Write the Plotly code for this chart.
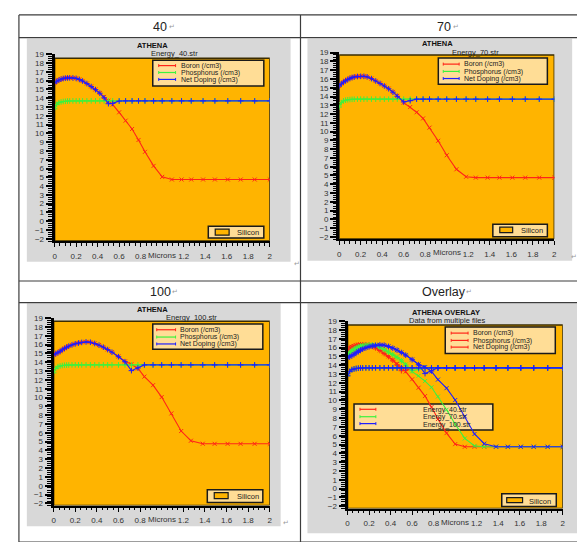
import plotly.graph_objects as go

W, H = 585, 542
FONT = "Liberation Sans, Arial, sans-serif"

# ---------------- data (log10 concentration vs depth in microns) ----------------
depth = [0.00, 0.02, 0.04, 0.06, 0.08, 0.10, 0.12, 0.14, 0.17, 0.20, 0.23, 0.26,
         0.30, 0.34, 0.38, 0.42, 0.46, 0.50, 0.54, 0.60, 0.66, 0.72, 0.78, 0.84,
         0.92, 1.00, 1.09, 1.18, 1.27, 1.38, 1.49, 1.61, 1.73, 1.86, 2.00]

boron_40 = [15.75, 15.95, 16.08, 16.18, 16.26, 16.30, 16.32, 16.33, 16.32, 16.27, 16.15, 15.97,
            15.68, 15.35, 15.00, 14.60, 14.15, 13.72, 13.28, 12.40, 11.45, 10.50, 9.25, 7.90,
            6.30, 5.05, 4.75, 4.75, 4.75, 4.75, 4.75, 4.75, 4.75, 4.75, 4.75]
net_40 = [15.74, 15.94, 16.07, 16.17, 16.25, 16.29, 16.31, 16.32, 16.31, 16.26, 16.14, 15.96,
          15.67, 15.33, 14.98, 14.57, 14.05, 13.38, 13.42, 13.68, 13.70, 13.70, 13.70, 13.70,
          13.70, 13.70, 13.70, 13.70, 13.70, 13.70, 13.70, 13.70, 13.70, 13.70, 13.70]

boron_70 = [15.20, 15.45, 15.65, 15.80, 15.95, 16.08, 16.17, 16.24, 16.29, 16.31, 16.31, 16.25,
            16.05, 15.78, 15.50, 15.22, 14.90, 14.52, 14.08, 13.30, 12.80, 12.20, 11.50, 10.45,
            8.95, 7.30, 5.70, 4.85, 4.75, 4.75, 4.75, 4.75, 4.75, 4.75, 4.75]
net_70 = [15.19, 15.44, 15.64, 15.79, 15.94, 16.07, 16.16, 16.23, 16.28, 16.30, 16.30, 16.24,
          16.04, 15.77, 15.49, 15.20, 14.88, 14.49, 14.02, 13.38, 13.52, 13.70, 13.70, 13.70,
          13.70, 13.70, 13.70, 13.70, 13.70, 13.70, 13.70, 13.70, 13.70, 13.70, 13.70]

boron_100 = [14.85, 14.98, 15.10, 15.25, 15.42, 15.58, 15.72, 15.84, 15.98, 16.10, 16.19, 16.26,
             16.32, 16.28, 16.14, 15.95, 15.72, 15.45, 15.15, 14.65, 14.10, 13.78, 13.30, 12.37,
             11.40, 10.05, 8.20, 6.20, 5.10, 4.76, 4.75, 4.75, 4.75, 4.75, 4.75]
net_100 = [14.84, 14.97, 15.09, 15.24, 15.41, 15.57, 15.71, 15.83, 15.97, 16.09, 16.18, 16.25,
           16.31, 16.27, 16.13, 15.94, 15.71, 15.44, 15.14, 14.63, 14.06, 13.05, 13.35, 13.70,
           13.70, 13.70, 13.70, 13.70, 13.70, 13.70, 13.70, 13.70, 13.70, 13.70, 13.70]

phosphorus = [12.80, 13.30, 13.50, 13.58, 13.63, 13.66, 13.68, 13.69, 13.70, 13.70, 13.70, 13.70,
              13.70, 13.70, 13.70, 13.70, 13.70, 13.70, 13.70, 13.70, 13.70, 13.70, 13.70, 13.70,
              13.70, 13.70, 13.70, 13.70, 13.70, 13.70, 13.70, 13.70, 13.70, 13.70, 13.70]

x_tick_vals = [0, 0.2, 0.4, 0.6, 0.8, 1.2, 1.4, 1.6, 1.8, 2]
x_tick_text = ["0", "0.2", "0.4", "0.6", "0.8", "1.2", "1.4", "1.6", "1.8", "2"]
y_tick_vals = list(range(-2, 20))

series_names = ["Boron (/cm3)", "Phosphorus (/cm3)", "Net Doping (/cm3)"]
file_names = ["Energy_40.str", "Energy_70.str", "Energy_100.str"]
headers = ["40", "70", "100", "Overlay"]

# ---------------- styles ----------------
RED, GREEN, BLUE = "#ff2418", "#3df23d", "#1e1eff"
ORANGE, GRAY, PALE = "#ffb400", "#d8d8d8", "#ffdd96"
SYMS = ["x-thin", "cross-thin", "cross-thin"]
XR = [0, 2]
YR = [-2.25, 19.02]

panels = [
    dict(x0=45, x1=262, yt=42.7, yb=232, otop=18.55, gray=(17, 27, 283, 253),
         t1=("<b>ATHENA</b>", 144, 34), t2=("Energy_40.str", 166, 42),
         leg=(144, 49, 256, 75), sx=(150, 167), rows=(54.3, 61.3, 68.3), tx=171,
         sil=(200, 217, 256, 229), sw=(207, 220, 221, 226), stx=(240, 223.5), lab_y=247,
         ret=(289, 255)),
    dict(x0=332, x1=549, yt=41, yb=230, otop=18.74, gray=(300, 27, 567, 252),
         t1=("<b>ATHENA</b>", 431, 32.3), t2=("Energy_70.str", 470, 40.7),
         leg=(432, 46.7, 542, 73.3), sx=(437, 453), rows=(52.8, 60.2, 67.4), tx=457,
         sil=(487, 215, 542, 227.7), sw=(494, 218, 507, 223.5), stx=(526, 221.5), lab_y=244,
         ret=(569, 248)),
    dict(x0=44, x1=262, yt=310, yb=500, otop=18.66, gray=(17, 295, 273, 521),
         t1=("<b>ATHENA</b>", 144, 301.7), t2=("Energy_100.str", 183, 309.3),
         leg=(144, 316, 255, 341.7), sx=(148, 167), rows=(321.9, 329.3, 336.3), tx=170,
         sil=(199, 484, 255, 497), sw=(206, 487, 220, 493), stx=(240, 490.5), lab_y=514,
         ret=(278, 517)),
    dict(x0=340.5, x1=557.5, yt=313, yb=503, otop=18.55, gray=(300, 295, 577, 528),
         t1=("<b>ATHENA OVERLAY</b>", 440, 304.3), t2=("Data from multiple files", 441, 312.5),
         leg=(439, 319, 550, 346), sx=(445, 462), rows=(325.3, 332.7, 339.5), tx=466,
         sil=(496, 488, 551, 501), sw=(501, 492, 517, 497), stx=(535, 495.5), lab_y=517,
         ret=(577, 527)),
]


def PX(x):
    return x / W


def PY(y):
    return 1 - y / H


fig = go.Figure()
shapes = []
annotations = []


def txt(x, y, s, size=7.0, color="#1a1a1a", xanchor="center"):
    annotations.append(dict(x=PX(x), y=PY(y), xref="paper", yref="paper", text=s,
                            showarrow=False, xanchor=xanchor, yanchor="middle",
                            borderpad=0, font=dict(family=FONT, size=size, color=color)))


def rect(x0, y0, x1, y1, fill, lw=1.0, lc="black", layer="above", xref="paper", yref="paper"):
    shapes.append(dict(type="rect", xref=xref, yref=yref, x0=x0, x1=x1, y0=y0, y1=y1,
                       fillcolor=fill, line=dict(color=lc, width=lw), layer=layer))


def line(x0, y0, x1, y1, color="#333", width=1.0):
    shapes.append(dict(type="line", xref="paper", yref="paper", x0=PX(x0), y0=PY(y0),
                       x1=PX(x1), y1=PY(y1), line=dict(color=color, width=width)))


# gray panel backgrounds
for p in panels:
    gx0, gy0, gx1, gy1 = p["gray"]
    rect(PX(gx0), PY(gy1), PX(gx1), PY(gy0), GRAY, lw=0, lc=GRAY, layer="below")

# table grid
for yy in (3, 26, 272.5, 294.5, 537):
    line(9, yy, 580, yy, "#3c3c3c", 1.2)
for xx in (9, 293, 580):
    line(xx, 3, xx, 537, "#3c3c3c", 1.2)

# headers
hdr_pos = [(151.7, 15, 159.5), (437.8, 15, 445.5), (151.7, 283.5, 162.5), (437.5, 283.5, 459)]
for h, (hx, hy, rx) in zip(headers, hdr_pos):
    txt(hx, hy, h, size=12.5, color="#222")
    txt(rx, hy, "↵", size=7, color="#9a9a9a", xanchor="left")

# axes + traces
data_sets = [(boron_40, phosphorus, net_40), (boron_70, phosphorus, net_70),
             (boron_100, phosphorus, net_100)]
layout_axes = {}
for i, p in enumerate(panels, start=1):
    xa = "x" if i == 1 else f"x{i}"
    ya = "y" if i == 1 else f"y{i}"
    xname = "xaxis" if i == 1 else f"xaxis{i}"
    yname = "yaxis" if i == 1 else f"yaxis{i}"
    layout_axes[xname] = dict(
        domain=[PX(p["x0"]), PX(p["x1"])], anchor=ya, range=XR,
        tickmode="array", tickvals=x_tick_vals, ticktext=x_tick_text,
        ticks="outside", ticklen=4, tickwidth=1, tickcolor="black",
        showline=True, linewidth=2, linecolor="black", showgrid=False, zeroline=False,
        tickfont=dict(family=FONT, size=8, color="#333"), ticklabelstandoff=2,
        minor=dict(tickmode="linear", tick0=0, dtick=0.05, ticks="outside", ticklen=2.5,
                   tickwidth=1, tickcolor="black", showgrid=False),
    )
    layout_axes[yname] = dict(
        domain=[PY(p["yb"]), PY(p["yt"])], anchor=xa, range=YR,
        tickmode="array", tickvals=y_tick_vals, ticks="outside", ticklen=6, tickwidth=1.5,
        tickcolor="black", showline=True, linewidth=3, linecolor="black",
        showgrid=False, zeroline=False,
        tickfont=dict(family=FONT, size=8, color="#333"),
        minor=dict(tickmode="linear", tick0=0, dtick=0.25, ticks="outside", ticklen=3.5,
                   tickwidth=1, tickcolor="black", showgrid=False),
    )

    # pixel -> data converters for this panel (for shapes drawn inside the plot area)
    def DX(px, p=p):
        return XR[0] + (XR[1] - XR[0]) * (px - p["x0"]) / (p["x1"] - p["x0"])

    def DY(py, p=p):
        return YR[0] + (YR[1] - YR[0]) * (p["yb"] - py) / (p["yb"] - p["yt"])

    def inrect(x0, y0, x1, y1, fill, lw, lc="#1a1a1a", xa=xa, ya=ya, DX=DX, DY=DY):
        rect(DX(x0), DY(y1), DX(x1), DY(y0), fill, lw=lw, lc=lc, layer="below", xref=xa, yref=ya)

    # orange plotting region
    rect(0, YR[0], 2, p["otop"], ORANGE, lw=1.5, lc="#3a2c00", layer="below", xref=xa, yref=ya)

    if i <= 3:
        sets = [(data_sets[i - 1], [RED, GREEN, BLUE])]
    else:
        sets = [(data_sets[0], [RED] * 3), (data_sets[1], [GREEN] * 3), (data_sets[2], [BLUE] * 3)]
    for vals3, cols in sets:
        for vals, col, sym in zip(vals3, cols, SYMS):
            fig.add_trace(go.Scatter(
                x=depth, y=vals, mode="lines+markers", xaxis=xa, yaxis=ya,
                line=dict(color=col, width=1.1),
                marker=dict(symbol=sym, size=4, color=col, line=dict(color=col, width=1)),
                hoverinfo="skip"))

    # titles
    txt(p["t1"][1], p["t1"][2], p["t1"][0], size=7.5, color="#111")
    txt(p["t2"][1], p["t2"][2], p["t2"][0], size=7.5, color="#222")

    # series legend box
    lx0, ly0, lx1, ly1 = p["leg"]
    inrect(lx0, ly0, lx1, ly1, PALE, 1.5)
    leg_cols = [RED, GREEN, BLUE] if i <= 3 else [RED] * 3
    for name, col, ry in zip(series_names, leg_cols, p["rows"]):
        sx0, sx1 = p["sx"]
        line(sx0, ry, sx1, ry, col, 1.2)
        for ex in (sx0, sx1):
            line(ex, ry - 1.5, ex, ry + 1.5, col, 1)
        txt(p["tx"], ry + 0.3, name, size=7, color="#222", xanchor="left")

    # file legend for overlay
    if i == 4:
        inrect(347, 397, 487, 423.5, PALE, 1.5)
        for name, col, ry, ty in zip(file_names, [RED, GREEN, BLUE],
                                     (402.5, 410, 417), (403, 410.8, 418)):
            line(353, ry, 369, ry, col, 1.2)
            for ex in (353, 369):
                line(ex, ry - 1.5, ex, ry + 1.5, col, 1)
            txt(416, ty, name, size=7, color="#222", xanchor="left")

    # Silicon region legend
    sx0_, sy0_, sx1_, sy1_ = p["sil"]
    inrect(sx0_, sy0_, sx1_, sy1_, PALE, 1.5)
    wx0, wy0, wx1, wy1 = p["sw"]
    inrect(wx0, wy0, wx1, wy1, ORANGE, 1.2)
    txt(p["stx"][0], p["stx"][1], "Silicon", size=7.5, color="#222")

    # axis title sitting in the tick-label row
    annotations.append(dict(x=1.0, xref=xa, y=PY(p["lab_y"]), yref="paper", text="Microns",
                            showarrow=False, xanchor="center", yanchor="middle",
                            font=dict(family=FONT, size=8, color="#333")))
    # paragraph marks
    txt(p["ret"][0], p["ret"][1], "↵", size=7, color="#9a9a9a")

txt(578, 14, "↵", size=5, color="#9a9a9a", xanchor="right")
txt(578, 283, "↵", size=5, color="#9a9a9a", xanchor="right")

fig.update_layout(
    width=W, height=H, margin=dict(l=0, r=0, t=0, b=0),
    paper_bgcolor="white", plot_bgcolor=GRAY, showlegend=False,
    shapes=shapes, annotations=annotations, **layout_axes,
)

fig.write_html("out.html")
